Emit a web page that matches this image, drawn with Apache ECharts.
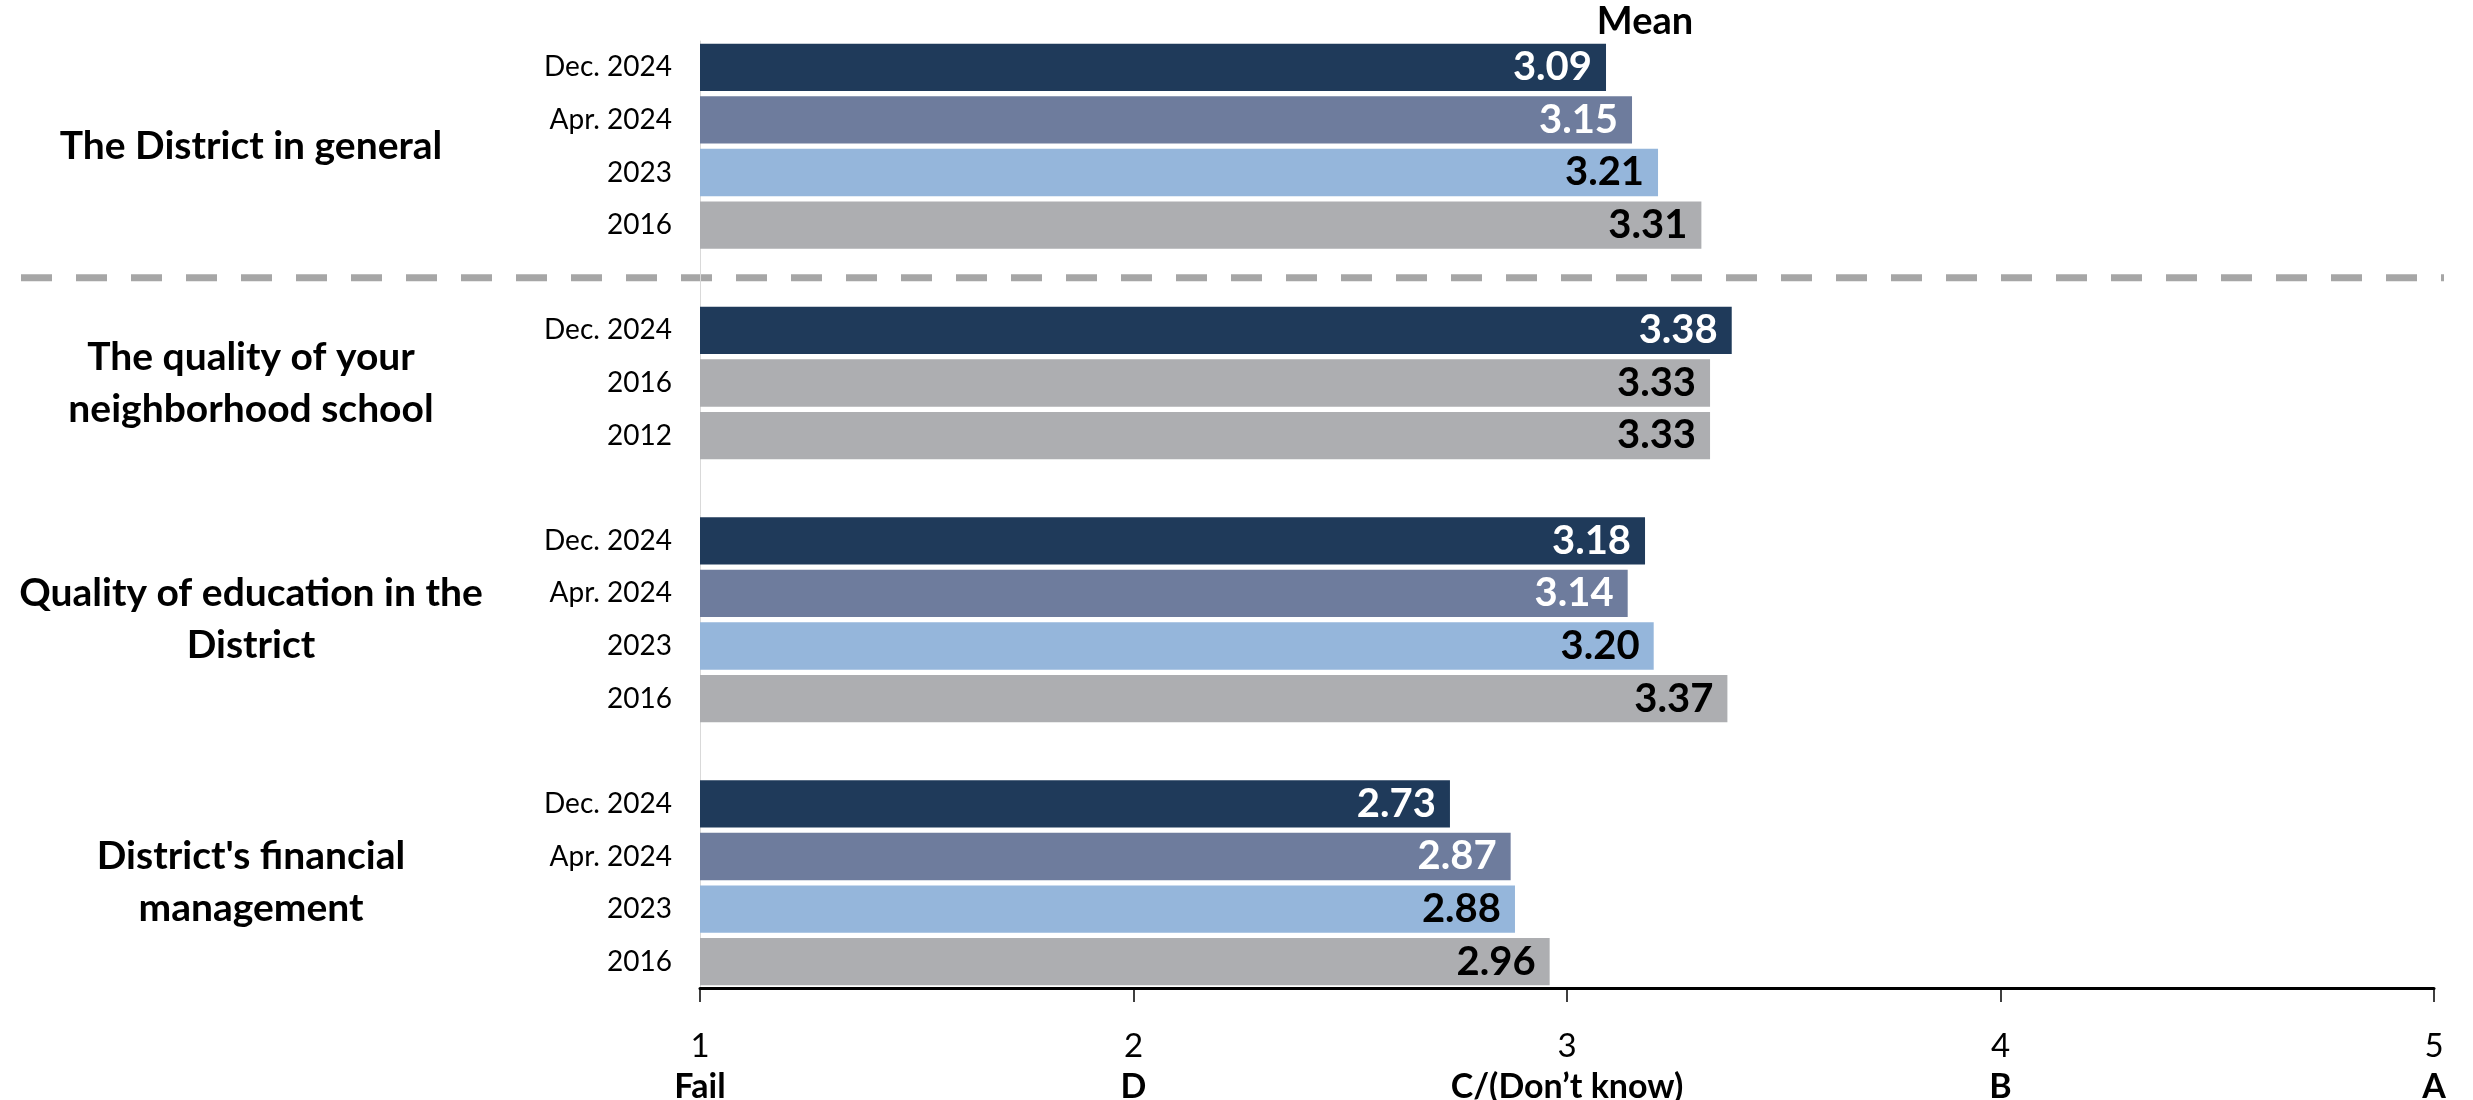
<!DOCTYPE html>
<html>
<head>
<meta charset="utf-8">
<script src="https://cdn.jsdelivr.net/npm/echarts@6/dist/echarts.min.js"></script>
<style>
html,body{margin:0;padding:0;background:#fff;}
#chart{width:2473px;height:1100px;}
</style>
</head>
<body>
<div id="chart"></div>
<script>
// ---- data ----
const groupNames = [
  'The District in general',
  'The quality of your\nneighborhood school',
  'Quality of education in the\nDistrict',
  "District's financial\nmanagement"
];
const groupYears = [
  ['Dec. 2024', 'Apr. 2024', '2023', '2016'],
  ['Dec. 2024', '2016', '2012'],
  ['Dec. 2024', 'Apr. 2024', '2023', '2016'],
  ['Dec. 2024', 'Apr. 2024', '2023', '2016']
];
const groupValues = [
  [3.09, 3.15, 3.21, 3.31],
  [3.38, 3.33, 3.33],
  [3.18, 3.14, 3.20, 3.37],
  [2.73, 2.87, 2.88, 2.96]
];
const xTickValues = [1, 2, 3, 4, 5];
const xTickGrades = ['Fail', 'D', 'C/(Don\u2019t know)', 'B', 'A'];
const valueTitle = 'Mean';

// ---- styles ----
const FONT = 'Lato, "Open Sans", "Noto Sans", sans-serif';
const yearColors = {
  'Dec. 2024': '#1f3a5a',
  'Apr. 2024': '#6e7c9d',
  '2023': '#95b6db',
  '2016': '#adaeb1',
  '2012': '#adaeb1'
};
const labelColors = {
  'Dec. 2024': '#ffffff',
  'Apr. 2024': '#ffffff',
  '2023': '#000000',
  '2016': '#000000',
  '2012': '#000000'
};

// build category slots (with an empty slot between groups)
const categories = [];
const barData = [];
const groupRanges = [];
groupYears.forEach((years, gi) => {
  if (gi > 0) { categories.push(''); barData.push('-'); }
  const start = categories.length;
  years.forEach((y, i) => {
    categories.push(y);
    barData.push({
      value: groupValues[gi][i],
      itemStyle: { color: yearColors[y] },
      label: { color: labelColors[y] }
    });
  });
  groupRanges.push([start, categories.length - 1]);
});
const firstGapIndex = groupYears[0].length;

const chart = echarts.init(document.getElementById('chart'));
chart.setOption({
  animation: false,
  grid: { left: 700, right: 39, top: 41, bottom: 112, containLabel: false, outerBoundsMode: 'none' },
  xAxis: {
    type: 'value', min: 1, max: 5, interval: 1,
    splitLine: { show: false },
    axisLine: { show: true, lineStyle: { color: '#000', width: 3 } },
    axisTick: { show: true, length: 14, lineStyle: { color: '#000', width: 1.5 } },
    axisLabel: {
      margin: 38,
      fontFamily: FONT,
      hideOverlap: false,
      formatter: function (v) {
        const i = xTickValues.indexOf(v);
        return '{n|' + v + '}\n{g|' + (i >= 0 ? xTickGrades[i] : '') + '}';
      },
      rich: {
        n: { fontSize: 33, lineHeight: 41, color: '#000', fontFamily: FONT },
        g: { fontSize: 34, lineHeight: 41, fontWeight: 'bold', color: '#000', fontFamily: FONT }
      }
    }
  },
  yAxis: {
    type: 'category', inverse: true, data: categories,
    axisLine: { show: true, lineStyle: { color: '#d9d9d9', width: 1 } },
    axisTick: { show: false },
    axisLabel: { fontSize: 28, color: '#000', margin: 28, fontFamily: FONT }
  },
  series: [{
    type: 'bar',
    data: barData,
    barCategoryGap: '10%',
    label: {
      show: true, position: 'insideRight', distance: 14,
      fontSize: 40, fontWeight: 'bold', fontFamily: FONT,
      formatter: p => p.value.toFixed(2)
    }
  }]
});

// group labels & separator positioned through the axis scale
function yPix(i) { return chart.convertToPixel({ yAxisIndex: 0 }, i); }
const graphics = [];
groupRanges.forEach((r, gi) => {
  const yc = (yPix(r[0]) + yPix(r[1])) / 2;
  graphics.push({
    type: 'text', x: 251, y: yc,
    style: {
      text: groupNames[gi], fontSize: 39, fontWeight: 'bold', fontFamily: FONT,
      fill: '#000', textAlign: 'center', textVerticalAlign: 'middle', lineHeight: 52
    }
  });
});
const yGap = yPix(firstGapIndex);
graphics.push({
  type: 'line', shape: { x1: 21, y1: yGap, x2: 2444, y2: yGap },
  style: { stroke: '#a6a6a6', lineWidth: 7, lineDash: [31, 24] }
});
const meanX = chart.convertToPixel({ xAxisIndex: 0 }, 3.18);
graphics.push({
  type: 'text', x: meanX, y: 22,
  style: {
    text: valueTitle, fontSize: 38, fontWeight: 'bold', fontFamily: FONT,
    fill: '#000', textAlign: 'center', textVerticalAlign: 'middle'
  }
});
chart.setOption({ graphic: graphics });
</script>
</body>
</html>
